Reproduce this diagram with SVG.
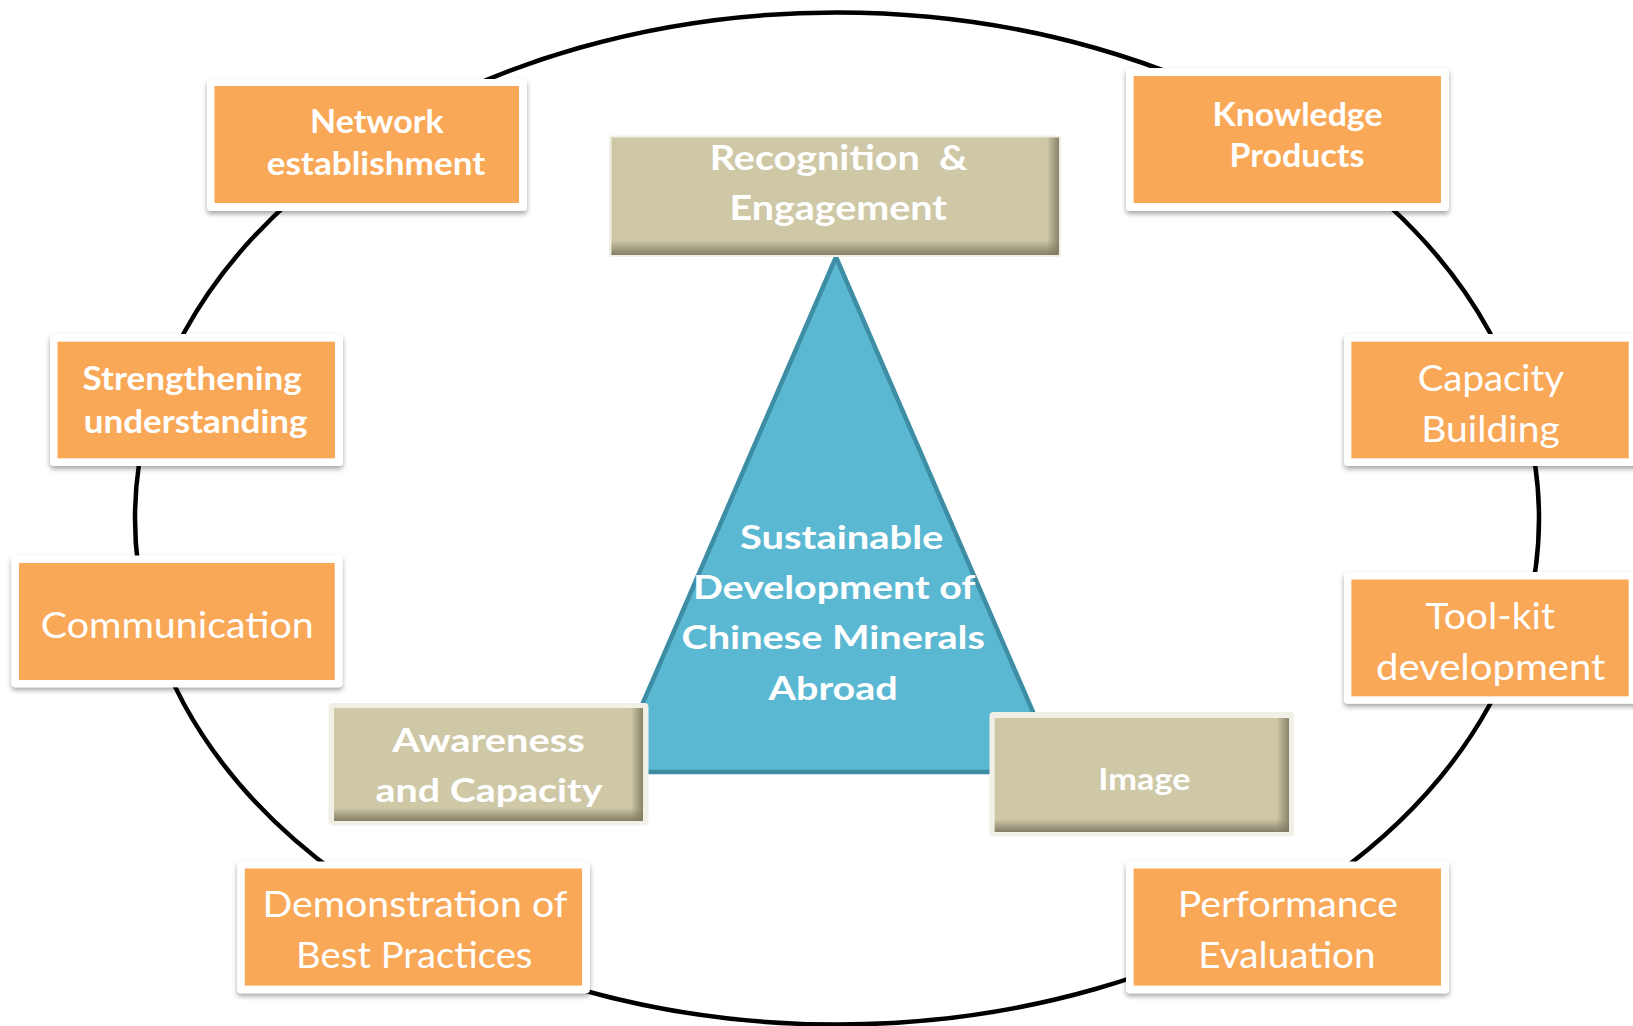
<svg xmlns="http://www.w3.org/2000/svg" width="1633" height="1026" viewBox="0 0 1633 1026">
  <defs>
    <style>
      .frame { fill: #ffffff; filter: url(#drop); }
      .orange { fill: #F9A858; }
      .tanframe { fill: #F1F0E7; }
      .tan { fill: #CEC8A7; }
      .shadeB { fill: url(#gradB); }
      .shadeR { fill: url(#gradR); }
      .ring { fill: none; stroke: #000000; stroke-width: 4.5; }
      .tri { fill: #5BB8D2; stroke: #3D8DA4; stroke-width: 4.5; stroke-linejoin: miter; }
      text { fill: #ffffff; text-anchor: middle; font-family: Lato, "Open Sans", "Liberation Sans", sans-serif; }
      .b { font-weight: 700; font-size: 33px; }
      .r { font-weight: 400; font-size: 37px; }
    </style>
    <filter id="drop" x="-10%" y="-10%" width="120%" height="130%">
      <feDropShadow dx="0" dy="3" stdDeviation="2.5" flood-color="#000000" flood-opacity="0.35"/>
    </filter>
    <linearGradient id="gradB" x1="0" y1="0" x2="0" y2="1">
      <stop offset="0" stop-color="#807B63" stop-opacity="0"/>
      <stop offset="1" stop-color="#807B63" stop-opacity="0.95"/>
    </linearGradient>
    <linearGradient id="gradR" x1="0" y1="0" x2="1" y2="0">
      <stop offset="0" stop-color="#807B63" stop-opacity="0"/>
      <stop offset="1" stop-color="#807B63" stop-opacity="0.9"/>
    </linearGradient>
  </defs>

  <rect width="1633" height="1026" fill="#ffffff"/>

  <!-- outer cycle ring -->
  <g id="connectors">
    <ellipse class="ring" cx="837" cy="518.5" rx="702" ry="506"/>
  </g>

  <!-- central triangle -->
  <g id="core">
    <polygon class="tri" points="836,257 613,772 1059,772"/>
  </g>

  <!-- three pillars -->
  <g id="recognition">
    <rect class="tanframe" x="609" y="135.5" width="452" height="121.5" rx="2"/>
    <rect class="tan" x="611.5" y="137.5" width="447.5" height="117.5"/>
    <rect class="shadeR" x="1047" y="137.5" width="12" height="117.5"/>
    <rect class="shadeB" x="611.5" y="240" width="447.5" height="15"/>
    <text class="b" xml:space="preserve" x="838.7" y="170" textLength="258" lengthAdjust="spacingAndGlyphs" style="font-size:35px">Recognition  &amp;</text>
    <text class="b" x="838.3" y="220" textLength="217.4" lengthAdjust="spacingAndGlyphs" style="font-size:35px">Engagement</text>
  </g>

  <g id="awareness">
    <rect class="tanframe" x="328.5" y="703" width="320" height="122.5" rx="4"/>
    <rect class="tan" x="334" y="708" width="309" height="113"/>
    <rect class="shadeR" x="631" y="708" width="12" height="113"/>
    <rect class="shadeB" x="334" y="808" width="309" height="13"/>
    <text class="b" x="488.5" y="751.7" textLength="192.4" lengthAdjust="spacingAndGlyphs">Awareness</text>
    <text class="b" x="489" y="802" textLength="227" lengthAdjust="spacingAndGlyphs">and Capacity</text>
  </g>

  <g id="image">
    <rect class="tanframe" x="989.5" y="712" width="304.5" height="124.6" rx="4"/>
    <rect class="tan" x="994.7" y="718" width="294.3" height="114"/>
    <rect class="shadeR" x="1276.5" y="718" width="12.5" height="114"/>
    <rect class="shadeB" x="994.7" y="819" width="294.3" height="13"/>
    <text class="b" x="1144.5" y="790.3" textLength="92.3" lengthAdjust="spacingAndGlyphs" style="font-size:31px">Image</text>
  </g>

  <!-- activity boxes on the ring -->
  <g id="network">
    <rect class="frame" x="207" y="79" width="320" height="132" rx="4"/>
    <rect class="orange" x="214.5" y="86" width="304.5" height="117"/>
    <text class="b" x="376.8" y="133" textLength="133.5" lengthAdjust="spacingAndGlyphs">Network</text>
    <text class="b" x="376" y="175" textLength="218.7" lengthAdjust="spacingAndGlyphs">establishment</text>
  </g>

  <g id="knowledge">
    <rect class="frame" x="1126" y="68" width="323" height="143" rx="4"/>
    <rect class="orange" x="1133.6" y="76" width="307.4" height="127"/>
    <text class="b" x="1297.5" y="126" textLength="170" lengthAdjust="spacingAndGlyphs">Knowledge</text>
    <text class="b" x="1297" y="166.7" textLength="134.8" lengthAdjust="spacingAndGlyphs">Products</text>
  </g>

  <g id="strengthening">
    <rect class="frame" x="50" y="334" width="293" height="132" rx="4"/>
    <rect class="orange" x="57.5" y="341.7" width="277.5" height="116.6"/>
    <text class="b" x="192.2" y="390" textLength="219.2" lengthAdjust="spacingAndGlyphs">Strengthening</text>
    <text class="b" x="195.6" y="433.3" textLength="223.8" lengthAdjust="spacingAndGlyphs">understanding</text>
  </g>

  <g id="capacity">
    <rect class="frame" x="1344" y="334" width="300" height="132" rx="4"/>
    <rect class="orange" x="1351.4" y="341.7" width="277.3" height="116.6"/>
    <text class="r" x="1490.9" y="390.7" textLength="146.3" lengthAdjust="spacingAndGlyphs">Capacity</text>
    <text class="r" x="1490.5" y="441.7" textLength="138.5" lengthAdjust="spacingAndGlyphs">Building</text>
  </g>

  <g id="communication">
    <rect class="frame" x="11.5" y="555.4" width="331" height="131.8" rx="4"/>
    <rect class="orange" x="19" y="563" width="315.7" height="117"/>
    <text class="r" x="177.3" y="637.6" textLength="273" lengthAdjust="spacingAndGlyphs">Communication</text>
  </g>

  <g id="toolkit">
    <rect class="frame" x="1344" y="572" width="300" height="131.7" rx="4"/>
    <rect class="orange" x="1351.4" y="579.5" width="277.3" height="116.8"/>
    <text class="r" x="1490.2" y="628.5" textLength="129.5" lengthAdjust="spacingAndGlyphs">Tool-kit</text>
    <text class="r" x="1490.7" y="679.5" textLength="229.4" lengthAdjust="spacingAndGlyphs">development</text>
  </g>

  <g id="demonstration">
    <rect class="frame" x="237" y="861.4" width="353" height="131.9" rx="4"/>
    <rect class="orange" x="244.8" y="868.5" width="337.2" height="117.1"/>
    <text class="r" x="415" y="917" textLength="305" lengthAdjust="spacingAndGlyphs">Demonstration of</text>
    <text class="r" x="414.2" y="968" textLength="236.4" lengthAdjust="spacingAndGlyphs">Best Practices</text>
  </g>

  <g id="performance">
    <rect class="frame" x="1126" y="861.4" width="323" height="131.9" rx="4"/>
    <rect class="orange" x="1133.6" y="868.5" width="307.4" height="117.1"/>
    <text class="r" x="1287.8" y="917" textLength="220.3" lengthAdjust="spacingAndGlyphs">Performance</text>
    <text class="r" x="1287" y="968" textLength="177.3" lengthAdjust="spacingAndGlyphs">Evaluation</text>
  </g>

  <!-- centre label -->
  <g id="core-label">
    <text class="b" x="841.7" y="548.7" textLength="203.4" lengthAdjust="spacingAndGlyphs">Sustainable</text>
    <text class="b" x="834.2" y="599" textLength="282.5" lengthAdjust="spacingAndGlyphs">Development of</text>
    <text class="b" x="833.2" y="649.3" textLength="303.5" lengthAdjust="spacingAndGlyphs">Chinese Minerals</text>
    <text class="b" x="833.2" y="699.7" textLength="129.2" lengthAdjust="spacingAndGlyphs">Abroad</text>
  </g>
</svg>
